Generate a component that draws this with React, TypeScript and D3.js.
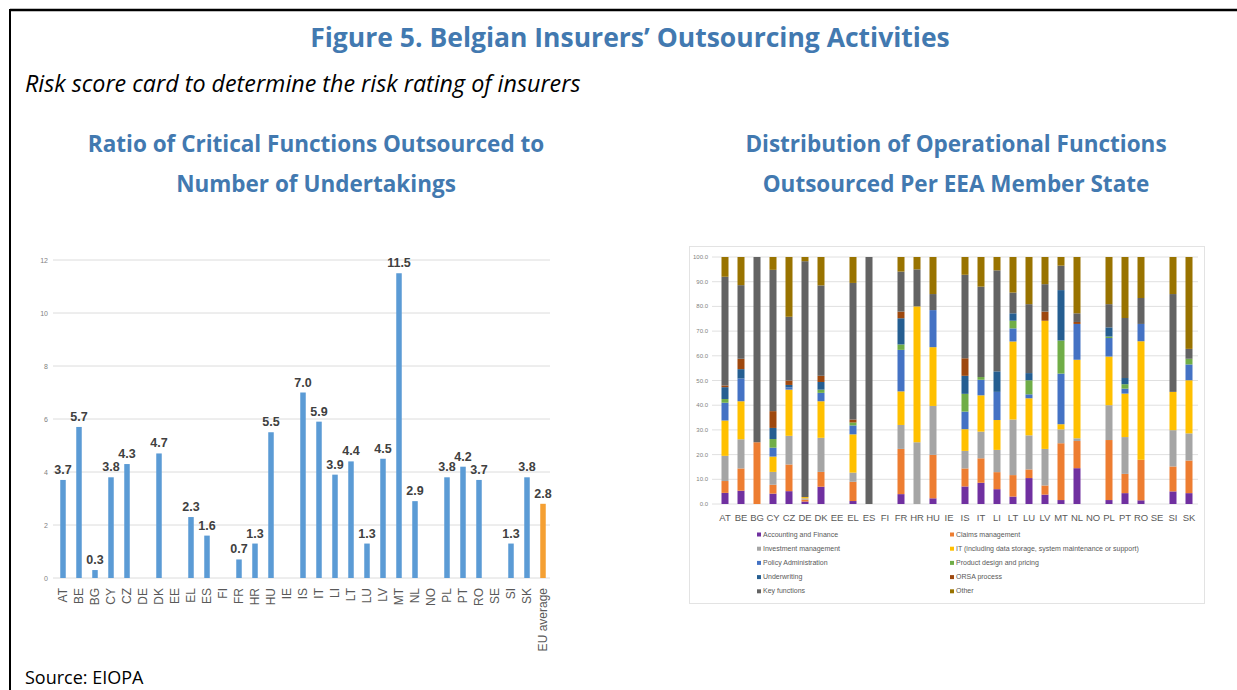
import React, { useRef, useEffect } from "react";
import * as d3 from "d3";

// left chart: ratio of critical functions outsourced to number of undertakings
const ratioCategories = ["AT", "BE", "BG", "CY", "CZ", "DE", "DK", "EE", "EL", "ES", "FI", "FR", "HR", "HU", "IE", "IS", "IT", "LI", "LT", "LU", "LV", "MT", "NL", "NO", "PL", "PT", "RO", "SE", "SI", "SK", "EU average"];
const ratioValues = [3.7, 5.7, 0.3, 3.8, 4.3, null, 4.7, null, 2.3, 1.6, null, 0.7, 1.3, 5.5, null, 7.0, 5.9, 3.9, 4.4, 1.3, 4.5, 11.5, 2.9, null, 3.8, 4.2, 3.7, null, 1.3, 3.8, 2.8];
const ratioTicks = [0, 2, 4, 6, 8, 10, 12];

// right chart: distribution of operational functions (%)
const countries = ["AT", "BE", "BG", "CY", "CZ", "DE", "DK", "EE", "EL", "ES", "FI", "FR", "HR", "HU", "IE", "IS", "IT", "LI", "LT", "LU", "LV", "MT", "NL", "NO", "PL", "PT", "RO", "SE", "SI", "SK"];
const accounting = [4.5, 5.4, 0, 4.2, 5.2, 1, 7, 0, 1.2, 0, 0, 4, 0, 2.3, 0, 7.1, 8.6, 6, 3, 10.5, 3.8, 1.6, 14.5, 0, 1.6, 4.4, 1.5, 0, 5.1, 4.4];
const claims = [4.8, 9, 25, 3.6, 10.8, 0.8, 6, 0, 7.8, 0, 0, 18.3, 0, 17.6, 0, 7.3, 9.9, 6.9, 8.7, 3.5, 3.7, 23, 11, 0, 24.3, 7.8, 16.4, 0, 10.1, 13.2];
const investment = [10.2, 11.8, 0, 5.2, 11.6, 0.5, 13.8, 0, 3.7, 0, 0, 9.7, 25, 19.8, 0, 7.1, 10.8, 9, 22.5, 13.8, 14.8, 5.6, 1.1, 0, 14.1, 14.9, 0, 0, 14.7, 11];
const itSupport = [14.3, 15.4, 0, 6.2, 18.7, 0.5, 14.8, 0, 15.5, 0, 0, 13.6, 55, 23.8, 0, 8.8, 14.7, 12.1, 31.6, 15, 51.9, 2.1, 31.8, 0, 19.7, 17.6, 48, 0, 15.5, 21.5];
const policyAdmin = [7.2, 9.2, 0, 3.6, 0.9, 0, 3.4, 0, 3.6, 0, 0, 16.8, 0, 15, 0, 7.1, 6.3, 11.4, 5.3, 1.6, 0, 20.5, 14.5, 0, 7.5, 2, 7, 0, 0, 6.4];
const productDesign = [1.5, 0, 0, 3.5, 0, 0, 1.3, 0, 1.2, 0, 0, 2.2, 0, 0, 0, 7.2, 1.1, 0, 3.1, 5.7, 0, 13.4, 0, 0, 0.6, 1.8, 0, 0, 0, 2.3];
const underwriting = [4.8, 3.8, 0, 4.5, 1, 0, 3.1, 0, 0, 0, 0, 10.6, 0, 0, 0, 7.3, 0, 8.3, 3, 2.9, 0, 20.4, 0, 0, 3.7, 2.5, 0, 0, 0, 0];
const orsa = [0.7, 4.2, 0, 6.8, 1.8, 0, 2.5, 0, 1.2, 0, 0, 2.7, 0, 0, 0, 7.1, 0, 0, 0, 0, 3.7, 0, 0.8, 0, 0, 0, 0, 0, 0, 0];
const keyFunctions = [44, 29.8, 75, 57.2, 25.8, 95.5, 36.6, 0, 55.3, 100, 0, 16.2, 15, 6.5, 0, 33.8, 36.6, 40.9, 8.4, 27.9, 11.1, 9.9, 3.5, 0, 9.4, 24.3, 10.5, 0, 39.6, 4];
const other = [8, 11.4, 0, 5.2, 24.2, 1.7, 11.5, 0, 10.5, 0, 0, 5.9, 5, 15, 0, 7.2, 12, 5.4, 14.4, 19.1, 11, 3.5, 22.8, 0, 19.1, 24.7, 16.6, 0, 15, 37.2];

const functionNames = ["Accounting and Finance", "Claims management", "Investment management", "IT (including data storage, system maintenance or support)", "Policy Administration", "Product design and pricing", "Underwriting", "ORSA process", "Key functions", "Other"];
const functionSeries = [accounting, claims, investment, itSupport, policyAdmin, productDesign, underwriting, orsa, keyFunctions, other];
const functionColors = ["#7030a0", "#ed7d31", "#a5a5a5", "#ffc000", "#4472c4", "#70ad47", "#255e91", "#9e480e", "#636363", "#997300"];
const distTicks = [0, 10, 20, 30, 40, 50, 60, 70, 80, 90, 100];

const BLUE = "#4279b0";
const NARROW = "'Liberation Sans Narrow', 'Liberation Sans', sans-serif";

function RatioChart() {
  const gRef = useRef(null);

  useEffect(() => {
    const g = d3.select(gRef.current);
    g.selectAll("*").remove();

    const x = d3.scaleBand().domain(ratioCategories).range([55, 551]);
    const y = d3.scaleLinear().domain([0, 12]).range([578, 260]);
    const bw = 5.5;

    g.selectAll(".grid")
      .data(ratioTicks)
      .join("line")
      .attr("x1", 53).attr("x2", 550)
      .attr("y1", (d) => y(d)).attr("y2", (d) => y(d))
      .attr("stroke", "#dcdcdc").attr("stroke-width", 1);

    g.selectAll(".ytick")
      .data(ratioTicks)
      .join("text")
      .attr("x", 48).attr("y", (d) => y(d) + 2.5)
      .attr("text-anchor", "end")
      .style("font-family", NARROW).style("font-size", "7px").attr("fill", "#7f7f7f")
      .text((d) => d);

    const data = ratioCategories.map((c, i) => ({ c, v: ratioValues[i] })).filter((d) => d.v != null);

    g.selectAll(".bar")
      .data(data)
      .join("rect")
      .attr("x", (d) => x(d.c) + x.bandwidth() / 2 - bw / 2)
      .attr("y", (d) => y(d.v))
      .attr("width", bw)
      .attr("height", (d) => y(0) - y(d.v))
      .attr("fill", (d) => (d.c === "EU average" ? "#f5a033" : "#5b9bd5"));

    g.selectAll(".val")
      .data(data)
      .join("text")
      .attr("x", (d) => x(d.c) + x.bandwidth() / 2)
      .attr("y", (d) => y(d.v) - 6)
      .attr("text-anchor", "middle")
      .style("font-family", NARROW).style("font-size", "12.5px").style("font-weight", "bold")
      .attr("fill", "#404040")
      .text((d) => d.v.toFixed(1));

    g.selectAll(".xlab")
      .data(ratioCategories)
      .join("text")
      .attr("transform", (d) => `translate(${x(d) + x.bandwidth() / 2 + 4},588) rotate(-90)`)
      .attr("text-anchor", "end")
      .style("font-family", NARROW).style("font-size", "12px").attr("fill", "#595959")
      .text((d) => d);
  }, []);

  return <g ref={gRef} />;
}

function DistributionChart() {
  const gRef = useRef(null);

  useEffect(() => {
    const g = d3.select(gRef.current);
    g.selectAll("*").remove();

    const x = d3.scaleBand().domain(countries).range([717, 1197]);
    const y = d3.scaleLinear().domain([0, 100]).range([504, 257]);
    const bw = 7;

    g.append("rect")
      .attr("x", 689.5).attr("y", 246.5).attr("width", 515).attr("height", 357)
      .attr("fill", "white").attr("stroke", "#e3e3e3");

    g.selectAll(".grid")
      .data(distTicks)
      .join("line")
      .attr("x1", 712).attr("x2", 1198)
      .attr("y1", (d) => y(d)).attr("y2", (d) => y(d))
      .attr("stroke", "#e0e0e0").attr("stroke-width", 1);

    g.selectAll(".ytick")
      .data(distTicks)
      .join("text")
      .attr("x", 708).attr("y", (d) => y(d) + 2)
      .attr("text-anchor", "end")
      .style("font-family", NARROW).style("font-size", "6px").attr("fill", "#7f7f7f")
      .text((d) => d3.format(".1f")(d));

    const rows = countries.map((c, i) => {
      const r = { country: c };
      functionNames.forEach((f, j) => (r[f] = functionSeries[j][i]));
      return r;
    });
    const stacked = d3.stack().keys(functionNames)(rows);

    g.selectAll(".layer")
      .data(stacked)
      .join("g")
      .attr("fill", (d, i) => functionColors[i])
      .selectAll("rect")
      .data((d) => d)
      .join("rect")
      .attr("x", (d) => x(d.data.country) + x.bandwidth() / 2 - bw / 2)
      .attr("y", (d) => y(d[1]))
      .attr("width", bw)
      .attr("height", (d) => y(d[0]) - y(d[1]));

    g.selectAll(".xlab")
      .data(countries)
      .join("text")
      .attr("x", (d) => x(d) + x.bandwidth() / 2)
      .attr("y", 521)
      .attr("text-anchor", "middle")
      .style("font-family", NARROW).style("font-size", "9.5px").attr("fill", "#595959")
      .text((d) => d);

    const legend = g.selectAll(".leg")
      .data(functionNames)
      .join("g")
      .attr("transform", (d, i) => `translate(${i % 2 === 0 ? 757 : 950},${536 + Math.floor(i / 2) * 14.2})`);
    legend.append("rect")
      .attr("x", 0).attr("y", -3.5).attr("width", 4).attr("height", 4)
      .attr("fill", (d, i) => functionColors[i]);
    legend.append("text")
      .attr("x", 6).attr("y", 0.5)
      .style("font-family", NARROW).style("font-size", "7px").attr("fill", "#595959")
      .text((d) => d);
  }, []);

  return <g ref={gRef} />;
}

export default function App() {
  return (
    <svg width={1237} height={690} style={{ position: "absolute", left: 0, top: 0, background: "white" }}>
      <rect x={0} y={0} width={1237} height={690} fill="white" />
      <line x1={10} x2={1237} y1={10} y2={10} stroke="#000" strokeWidth={2.5} />
      <line x1={10} x2={10} y1={9} y2={690} stroke="#000" strokeWidth={2} />

      <text x={630} y={47} textAnchor="middle" fill={BLUE}
        style={{ fontFamily: "'Open Sans', sans-serif", fontWeight: 700, fontSize: 26.5 }}>
        Figure 5. Belgian Insurers’ Outsourcing Activities
      </text>
      <text x={25} y={92} fill="#000"
        style={{ fontFamily: "'Open Sans', sans-serif", fontStyle: "italic", fontSize: 23.3 }}>
        Risk score card to determine the risk rating of insurers
      </text>

      <g style={{ fontFamily: "'Open Sans', sans-serif", fontWeight: 700, fontSize: 22.5 }} fill={BLUE}>
        <text x={316} y={152} textAnchor="middle">Ratio of Critical Functions Outsourced to</text>
        <text x={316} y={192} textAnchor="middle">Number of Undertakings</text>
        <text x={956} y={152} textAnchor="middle">Distribution of Operational Functions</text>
        <text x={956} y={192} textAnchor="middle">Outsourced Per EEA Member State</text>
      </g>

      <RatioChart />
      <DistributionChart />

      <text x={25} y={684} fill="#000" style={{ fontFamily: "'Open Sans', sans-serif", fontSize: 18 }}>
        Source: EIOPA
      </text>
    </svg>
  );
}
